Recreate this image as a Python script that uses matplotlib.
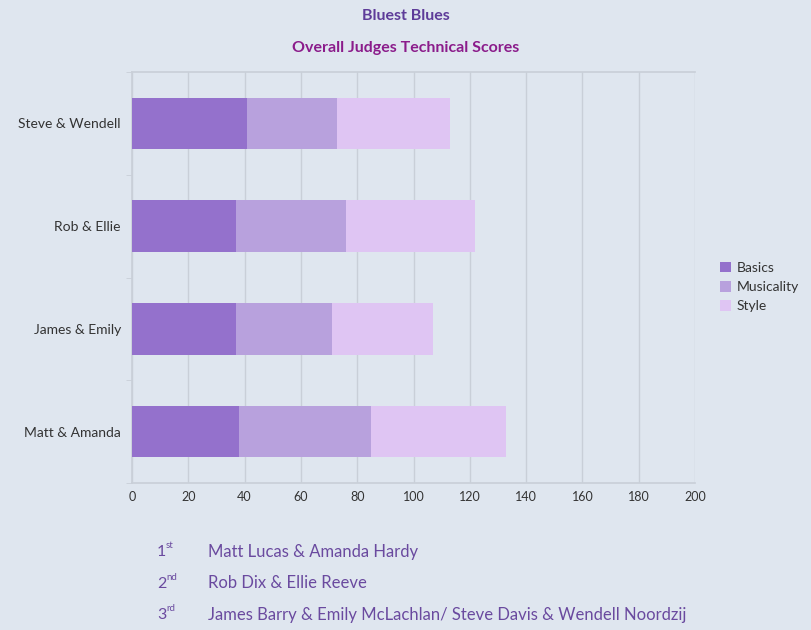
import numpy as np
import matplotlib.pyplot as plt

# Data (bottom to top order in the picture: Matt first)
couples = ["Matt & Amanda", "James & Emily", "Rob & Ellie", "Steve & Wendell"]
basics = [38, 37, 37, 41]
musicality = [47, 34, 39, 32]
style = [48, 36, 46, 40]

placings = ["1", "2", "3"]
suffixes = ["st", "nd", "rd"]
winners = ["Matt Lucas & Amanda Hardy",
           "Rob Dix & Ellie Reeve",
           "James Barry & Emily McLachlan/ Steve Davis & Wendell Noordzij"]

bg = "#dfe6ef"
colors = ["#9471cc", "#b8a1dd", "#dfc5f3"]
grid_col = "#c9cfd8"

plt.rcParams['font.family'] = ['Lato', 'DejaVu Sans']

fig = plt.figure(figsize=(8.11, 6.30), dpi=100)
fig.patch.set_facecolor(bg)
ax = fig.add_axes([132/811, 1 - 483/630, 563/811, 411/630])
ax.set_facecolor(bg)

y = np.arange(len(couples))
b = np.array(basics)
m = np.array(musicality)
s = np.array(style)
ax.barh(y, b, height=0.5, color=colors[0], label="Basics", zorder=3)
ax.barh(y, m, left=b, height=0.5, color=colors[1], label="Musicality", zorder=3)
ax.barh(y, s, left=b + m, height=0.5, color=colors[2], label="Style", zorder=3)

ax.set_xlim(0, 200)
ax.set_ylim(-0.5, len(couples) - 0.5)
ax.set_xticks(np.arange(0, 201, 20))
ax.set_yticks(y)
ax.set_yticklabels(couples)
ax.set_yticks(np.arange(-0.5, len(couples), 1), minor=True)
ax.tick_params(axis='y', which='major', length=0, pad=8, labelsize=10, labelcolor="#333333")
ax.tick_params(axis='y', which='minor', length=4, color=grid_col)
ax.tick_params(axis='x', length=0, pad=6, labelsize=9, labelcolor="#333333")
ax.grid(axis='x', color=grid_col, linewidth=1, zorder=0)

for side in ['left', 'bottom', 'top', 'right']:
    ax.spines[side].set_color(grid_col)
    ax.spines[side].set_linewidth(1.2)
ax.spines['right'].set_visible(False)

leg = ax.legend(loc='center left', bbox_to_anchor=(1.022, 0.477), frameon=False,
                fontsize=10, handlelength=0.8, handleheight=0.8,
                handletextpad=0.4, labelspacing=0.5)
for t in leg.get_texts():
    t.set_color("#333333")

fig.text(406/811, 1 - 16/630, "Bluest Blues", ha='center', va='center',
         fontsize=11.5, fontweight='bold', color="#5e3c99")
fig.text(406/811, 1 - 48/630, "Overall Judges Technical Scores", ha='center', va='center',
         fontsize=11.5, fontweight='bold', color="#8b1c8b")

text_col = "#6a4a9f"
for i, (p, suf, name) in enumerate(zip(placings, suffixes, winners)):
    yy = 1 - (552 + 31.5 * i) / 630
    fig.text(157/811, yy, p, ha='left', va='center', fontsize=11.5, color=text_col)
    fig.text(166/811, yy + 0.01, suf, ha='left', va='center', fontsize=7, color=text_col)
    fig.text(208/811, yy, name, ha='left', va='center', fontsize=12, color=text_col)

fig.savefig("out.png", dpi=100, facecolor=bg)
